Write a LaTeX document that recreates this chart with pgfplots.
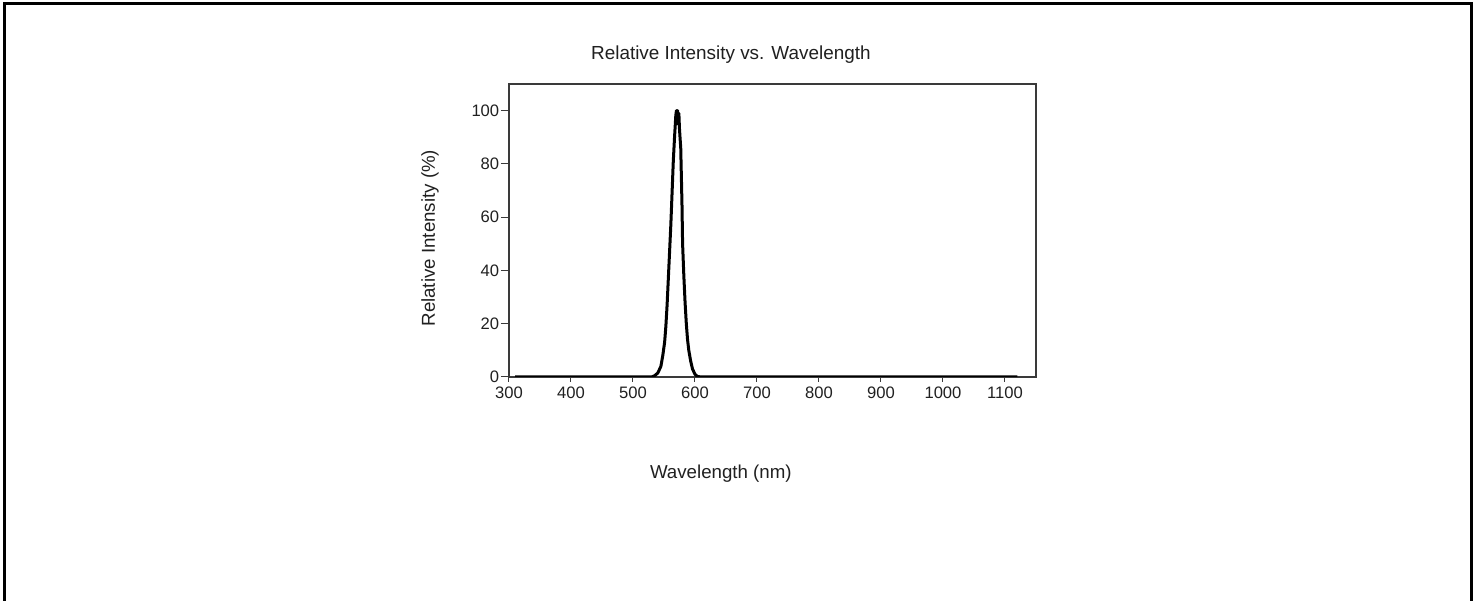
\documentclass[border=0pt]{standalone}
\usepackage{pgfplots}
\pgfplotsset{compat=1.18}
\usepackage{fontspec}
\setmainfont{Liberation Sans}
\definecolor{axgray}{HTML}{3A3A3A}
\definecolor{txtgray}{HTML}{202020}
\begin{document}
\begin{tikzpicture}
\path[use as bounding box] (-509pt,-224pt) rectangle (964pt,377pt);
\draw[line width=3pt,black] (-504pt,-224pt) -- (-504pt,373pt) -- (962pt,373pt) -- (962pt,-224pt);
\begin{axis}[
  scale only axis, width=527pt, height=293pt,
  xmin=300, xmax=1150, ymin=0, ymax=110,
  xtick={300,400,...,1100}, ytick={0,20,...,100},
  tick pos=left,
  tick align=outside,
  xtick style={axgray, line width=1pt, /pgfplots/major tick length=5pt},
  ytick style={axgray, line width=1pt, /pgfplots/major tick length=8pt},
  axis line style={axgray, line width=1.5pt},
  x tick label style={font=\fontsize{16.6}{20}\selectfont, text=txtgray, yshift=-2pt},
  y tick label style={font=\fontsize{16.6}{20}\selectfont, text=txtgray, xshift=-2pt},
  /pgf/number format/assume math mode=true,
  /pgf/number format/1000 sep={},
  title={Relative Intensity vs. Wavelength},
  title style={at={(axis description cs:0.421,1.080)}, anchor=center, font=\fontsize{18.9}{22}\selectfont, text=txtgray},
  xlabel={Wavelength (nm)},
  xlabel style={at={(axis description cs:0.402,-0.330)}, anchor=center, font=\fontsize{18.7}{22}\selectfont, text=txtgray},
  ylabel={Relative Intensity (\%)},
  ylabel style={at={(axis description cs:-0.150,0.474)}, anchor=center, font=\fontsize{18.7}{22}\selectfont, text=txtgray},
]
\addplot[black, line width=3pt, line join=round] coordinates {
(310,0) (400,0) (500,0) (530,0) (535,0.5) (540,1.5) (545,4) (548,8) (551,13)
(553,19) (555,27) (557,37) (559,47) (561,57) (563,69) (565,81) (567,90)
(569,98) (570,100) (571,95) (572,100) (573,97) (574,99) (575,93) (577,86)
(579,65) (580,50) (582,38) (584,28) (586,20) (588,14) (590,10) (593,6)
(596,3) (600,1) (604,0.2) (610,0) (700,0) (900,0) (1120,0)
};
\end{axis}
\end{tikzpicture}
\end{document}
